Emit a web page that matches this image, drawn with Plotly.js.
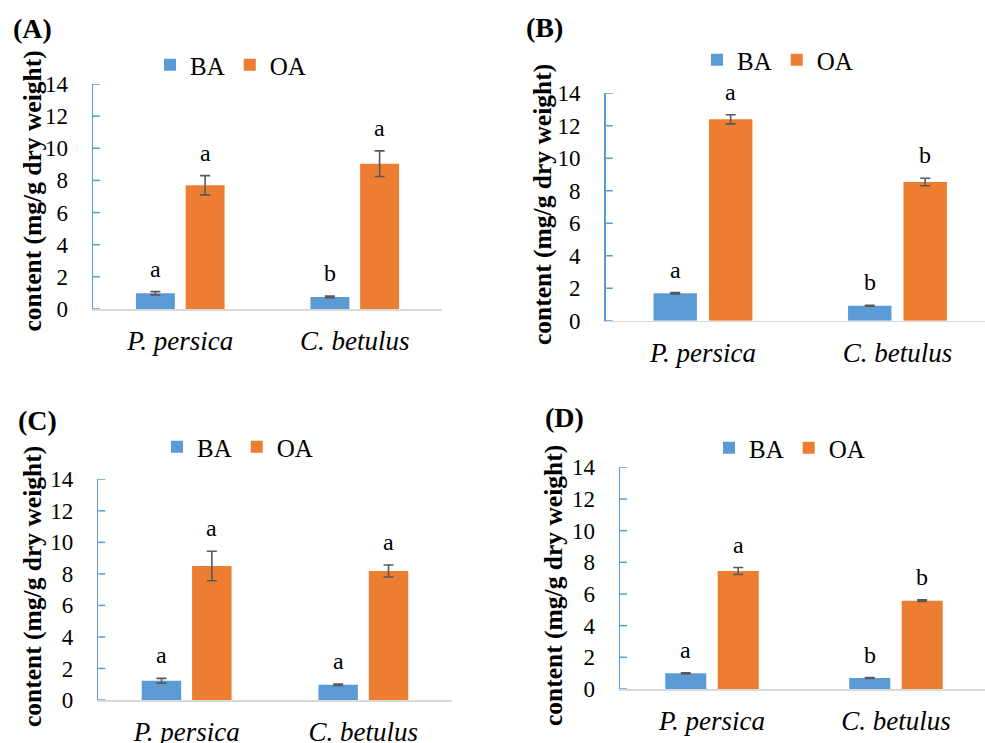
<!DOCTYPE html>
<html><head><meta charset="utf-8">
<script src="https://cdn.plot.ly/plotly-3.0.1.min.js"></script>
<style>html,body{margin:0;padding:0;background:#fff;overflow:hidden}</style>
</head><body><div id="chart" style="width:985px;height:743px"></div>
<script>
// ---- data ----
const categories = ['P. persica', 'C. betulus'];
const seriesNames = ['BA', 'OA'];
const panelLabels = ['(A)', '(B)', '(C)', '(D)'];
const yTitle = 'content (mg/g dry weight)';
const yTicks = [0, 2, 4, 6, 8, 10, 12, 14];

const baA = [0.98, 0.75];  const baErrA = [0.10, 0.05];
const oaA = [7.70, 9.04];  const oaErrA = [0.60, 0.80];
const baLetA = ['a', 'b']; const oaLetA = ['a', 'a'];

const baB = [1.69, 0.92];  const baErrB = [0.04, 0.03];
const oaB = [12.40, 8.54]; const oaErrB = [0.28, 0.23];
const baLetB = ['a', 'b']; const oaLetB = ['a', 'b'];

const baC = [1.22, 0.97];  const baErrC = [0.15, 0.04];
const oaC = [8.50, 8.18];  const oaErrC = [0.94, 0.38];
const baLetC = ['a', 'a']; const oaLetC = ['a', 'a'];

const baD = [0.99, 0.69];  const baErrD = [0.04, 0.03];
const oaD = [7.45, 5.58];  const oaErrD = [0.22, 0.05];
const baLetD = ['a', 'b']; const oaLetD = ['a', 'b'];

// ---- styling / layout ----
const W = 985, H = 743;
const FONT = '"Liberation Serif", "Times New Roman", Times, serif';
const colors = ['#5B9BD5', '#ED7D31'];
const AXBLUE = '#5B9BD5';
const BARGAP = 0.43, BARGROUPGAP = 0.217;
const off = (1 - BARGAP) / 4;
const TICKLEN = 7;

const panels = [
  {ba: baA, baE: baErrA, oa: oaA, oaE: oaErrA, baL: baLetA, oaL: oaLetA,
   px: [93, 442], py: [84, 309], xr: [-0.5, 1.5], leg: [150, 65], lab: [11, 29], tt: [32, 191.5]},
  {ba: baB, baE: baErrB, oa: oaB, oaE: oaErrB, baL: baLetB, oaL: oaLetB,
   px: [605.7, 985], py: [93.3, 320.7], xr: [-0.5, 1.45], leg: [697, 60], lab: [524, 27], tt: [542, 205]},
  {ba: baC, baE: baErrC, oa: oaC, oaE: oaErrC, baL: baLetC, oaL: oaLetC,
   px: [98.3, 451.7], py: [479.3, 700], xr: [-0.5, 1.5], leg: [157, 447], lab: [16, 420], tt: [32, 587]},
  {ba: baD, baE: baErrD, oa: oaD, oaE: oaErrD, baL: baLetD, oaL: oaLetD,
   px: [620, 985], py: [467.3, 689], xr: [-0.5, 1.484], leg: [709, 448], lab: [543, 417], tt: [553, 586]}
];

const data = [];
const layout = {
  width: W, height: H, margin: {l: 0, r: 0, t: 0, b: 0},
  paper_bgcolor: '#fff', plot_bgcolor: '#fff',
  barmode: 'group', bargap: BARGAP, bargroupgap: BARGROUPGAP,
  font: {family: FONT, color: '#000'},
  annotations: [], shapes: []
};

panels.forEach((p, i) => {
  const sfx = i === 0 ? '' : String(i + 1);
  const xa = 'x' + sfx, ya = 'y' + sfx, lg = 'legend' + sfx;
  const vals = [p.ba, p.oa], errs = [p.baE, p.oaE], lets = [p.baL, p.oaL];
  vals.forEach((v, s) => {
    data.push({
      type: 'bar', x: categories, y: v, name: seriesNames[s],
      xaxis: xa, yaxis: ya, legend: lg,
      marker: {color: colors[s]},
      error_y: {type: 'data', array: errs[s], visible: true, color: '#595959', thickness: 1.6, width: 5},
      hoverinfo: 'skip'
    });
    v.forEach((val, k) => {
      layout.annotations.push({
        xref: xa, yref: ya, x: k + (s === 0 ? -off : off), y: val + errs[s][k],
        text: lets[s][k], showarrow: false, yanchor: 'bottom', yshift: 8,
        font: {family: FONT, size: 24, color: '#000'}
      });
    });
  });
  layout['xaxis' + sfx] = {
    domain: [p.px[0] / W, p.px[1] / W], anchor: ya, type: 'category', range: p.xr,
    showline: true, linecolor: '#D9D9D9', linewidth: 1.5, ticks: '', showgrid: false, zeroline: false,
    tickfont: {family: FONT, size: 27, color: '#000', style: 'italic'}, ticklabelstandoff: 7, fixedrange: true
  };
  // tick labels pushed away from the axis with transparent outside ticks
  layout['yaxis' + sfx] = {
    domain: [1 - p.py[1] / H, 1 - p.py[0] / H], anchor: xa, range: [0, 14], tickvals: yTicks,
    showline: true, linecolor: AXBLUE, linewidth: 1.5,
    ticks: 'outside', ticklen: 19, tickcolor: 'rgba(0,0,0,0)',
    showgrid: false, zeroline: false,
    tickfont: {family: FONT, size: 23, color: '#000'}, fixedrange: true
  };
  // visible inside tick marks at each tick value
  const tickFrac = TICKLEN / (p.px[1] - p.px[0]);
  yTicks.forEach(t => {
    layout.shapes.push({
      type: 'line', xref: xa + ' domain', yref: ya,
      x0: 0, x1: tickFrac, y0: t, y1: t, line: {color: AXBLUE, width: 1.5}, layer: 'above'
    });
  });
  layout[lg] = {
    orientation: 'h', x: p.leg[0] / W, y: 1 - p.leg[1] / H, xanchor: 'left', yanchor: 'middle',
    font: {family: FONT, size: 25, color: '#000'}, bgcolor: 'rgba(0,0,0,0)', itemclick: false
  };
  // y-axis title
  layout.annotations.push({
    xref: 'paper', yref: 'paper', x: p.tt[0] / W, y: 1 - p.tt[1] / H, xanchor: 'center', yanchor: 'middle',
    text: '<b>' + yTitle + '</b>', textangle: -90, showarrow: false,
    font: {family: FONT, size: 25.5, color: '#000'}
  });
  // panel label
  layout.annotations.push({
    xref: 'paper', yref: 'paper', x: p.lab[0] / W, y: 1 - p.lab[1] / H, xanchor: 'left', yanchor: 'middle',
    text: '<b>' + panelLabels[i] + '</b>', showarrow: false, font: {family: FONT, size: 28, color: '#000'}
  });
});

Plotly.newPlot('chart', data, layout, {displayModeBar: false, staticPlot: true});
</script></body></html>
